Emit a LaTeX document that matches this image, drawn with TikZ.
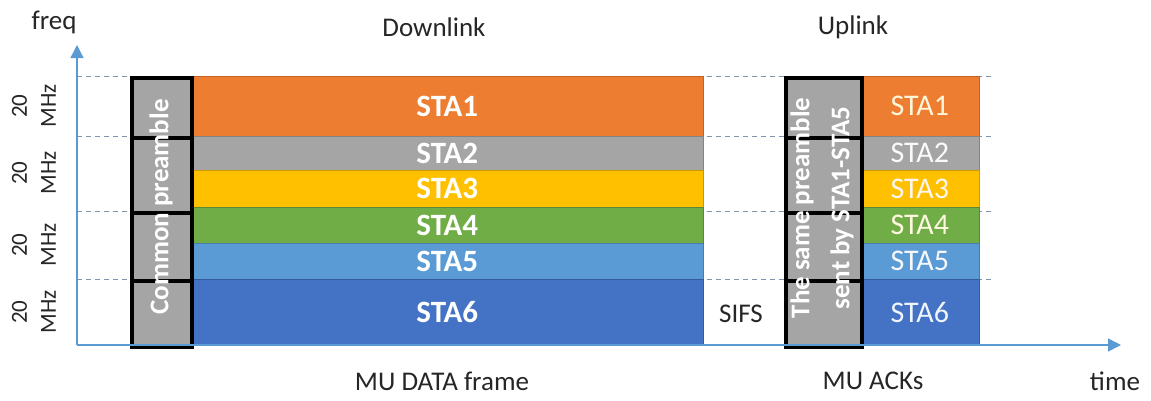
\documentclass[tikz,border=0pt]{standalone}
\usepackage{fontspec}
\setmainfont{Carlito}
\usetikzlibrary{arrows.meta}
\definecolor{cOrange}{HTML}{ED7D31}
\definecolor{cGray}{HTML}{A5A5A5}
\definecolor{cGold}{HTML}{FFC000}
\definecolor{cGreen}{HTML}{70AD47}
\definecolor{cLtBlue}{HTML}{5B9BD5}
\definecolor{cBlue}{HTML}{4472C4}
\definecolor{cAxis}{HTML}{5B9BD5}
\definecolor{cDash}{HTML}{7F96B2}
\definecolor{cText}{HTML}{262626}
\begin{document}
\begin{tikzpicture}[x=1pt,y=-1pt,
  blk/.style={rectangle, inner sep=0pt, anchor=north west, draw=#1!80!black, line width=0.6pt, fill=#1},
  dlab/.style={text=white, font=\bfseries\fontsize{31}{33}\selectfont},
  ulab/.style={font=\fontsize{30}{32}\selectfont},
  pre/.style={rectangle, inner sep=0pt, anchor=north west, draw=black, line width=3.6pt, fill=cGray},
  pretext/.style={rotate=90, text=white, align=center, font=\bfseries\fontsize{27}{40}\selectfont},
  mhz/.style={rotate=90, align=center, text=cText, font=\fontsize{23}{29}\selectfont},
  lab/.style={text=cText, font=\fontsize{27}{30}\selectfont},
  axis/.style={draw=cAxis, line width=1.4pt},
  guide/.style={draw=cDash, line width=1pt, dashed, dash pattern=on 5pt off 4pt}
]
\useasboundingbox (0,0) rectangle (1151,400);

% coordinates
\coordinate (o) at (77,345);
\coordinate (ftip) at (77,45);
\coordinate (ttip) at (1121,345);
\coordinate (d1a) at (77,76);  \coordinate (d1b) at (992,76);
\coordinate (d2a) at (77,136); \coordinate (d2b) at (992,136);
\coordinate (d3a) at (77,211); \coordinate (d3b) at (992,211);
\coordinate (d4a) at (77,279); \coordinate (d4b) at (992,279);

% guide lines
\draw[guide] (d1a) -- (d1b);
\draw[guide] (d2a) -- (d2b);
\draw[guide] (d3a) -- (d3b);
\draw[guide] (d4a) -- (d4b);

% downlink data blocks
\node[blk=cOrange, minimum width=512pt, minimum height=60pt] (s1) at (191,76) {};
\node[blk=cGray,   minimum width=512pt, minimum height=34pt] (s2) at (191,136) {};
\node[blk=cGold,   minimum width=512pt, minimum height=37pt] (s3) at (191,170) {};
\node[blk=cGreen,  minimum width=512pt, minimum height=36pt] (s4) at (191,207) {};
\node[blk=cLtBlue, minimum width=512pt, minimum height=36pt] (s5) at (191,243) {};
\node[blk=cBlue,   minimum width=512pt, minimum height=66pt] (s6) at (191,279) {};
\node[dlab] at (s1.center) {STA1};
\node[dlab] at (s2.center) {STA2};
\node[dlab] at (s3.center) {STA3};
\node[dlab] at (s4.center) {STA4};
\node[dlab] at (s5.center) {STA5};
\node[dlab] at (s6.center) {STA6};

% uplink blocks
\node[blk=cOrange, minimum width=119pt, minimum height=60pt] (u1) at (860,76) {};
\node[blk=cGray,   minimum width=119pt, minimum height=34pt] (u2) at (860,136) {};
\node[blk=cGold,   minimum width=119pt, minimum height=37pt] (u3) at (860,170) {};
\node[blk=cGreen,  minimum width=119pt, minimum height=36pt] (u4) at (860,207) {};
\node[blk=cLtBlue, minimum width=119pt, minimum height=36pt] (u5) at (860,243) {};
\node[blk=cBlue,   minimum width=119pt, minimum height=66pt] (u6) at (860,279) {};
\node[ulab, text=white!85!cGold] at (u1.center) {STA1};
\node[ulab, text=white!95!cGray] at (u2.center) {STA2};
\node[ulab, text=white!93!cOrange] at (u3.center) {STA3};
\node[ulab, text=white!88!cGold] at (u4.center) {STA4};
\node[ulab, text=white!95!cBlue] at (u5.center) {STA5};
\node[ulab, text=white!90!cLtBlue] at (u6.center) {STA6};

% common preamble boxes
\node[pre, minimum width=60pt, minimum height=60pt] (p1) at (130,76) {};
\node[pre, minimum width=60pt, minimum height=75pt] (p2) at (130,136) {};
\node[pre, minimum width=60pt, minimum height=68pt] (p3) at (130,211) {};
\node[pre, minimum width=60pt, minimum height=66pt] (p4) at (130,279) {};
\node[pretext] (cp) at (161,207) {Common preamble};

% uplink preamble boxes
\node[pre, minimum width=76pt, minimum height=60pt] (q1) at (784,76) {};
\node[pre, minimum width=76pt, minimum height=75pt] (q2) at (784,136) {};
\node[pre, minimum width=76pt, minimum height=68pt] (q3) at (784,211) {};
\node[pre, minimum width=76pt, minimum height=66pt] (q4) at (784,279) {};
\node[pretext] (sp) at (822,208) {The same preamble\\sent by STA1-STA5};

% axes
\draw[axis, -{Triangle[width=13pt,length=13pt]}] (o) -- (ftip);
\draw[axis, -{Triangle[width=13pt,length=13pt]}] (o) -- (ttip);

% bandwidth labels
\node[mhz] (m1) at (34,106) {20\\MHz};
\node[mhz] (m2) at (34,173) {20\\MHz};
\node[mhz] (m3) at (34,245) {20\\MHz};
\node[mhz] (m4) at (34,312) {20\\MHz};

% text labels
\node[lab] (freq) at (54,22) {freq};
\node[lab] (dl) at (434,27) {Downlink};
\node[lab] (ul) at (853,27) {Uplink};
\node[lab] (sifs) at (741,314) {SIFS};
\node[lab] (mud) at (442,381) {MU DATA frame};
\node[lab] (mua) at (873,381) {MU ACKs};
\node[lab] (time) at (1115,381) {time};
\end{tikzpicture}
\end{document}
